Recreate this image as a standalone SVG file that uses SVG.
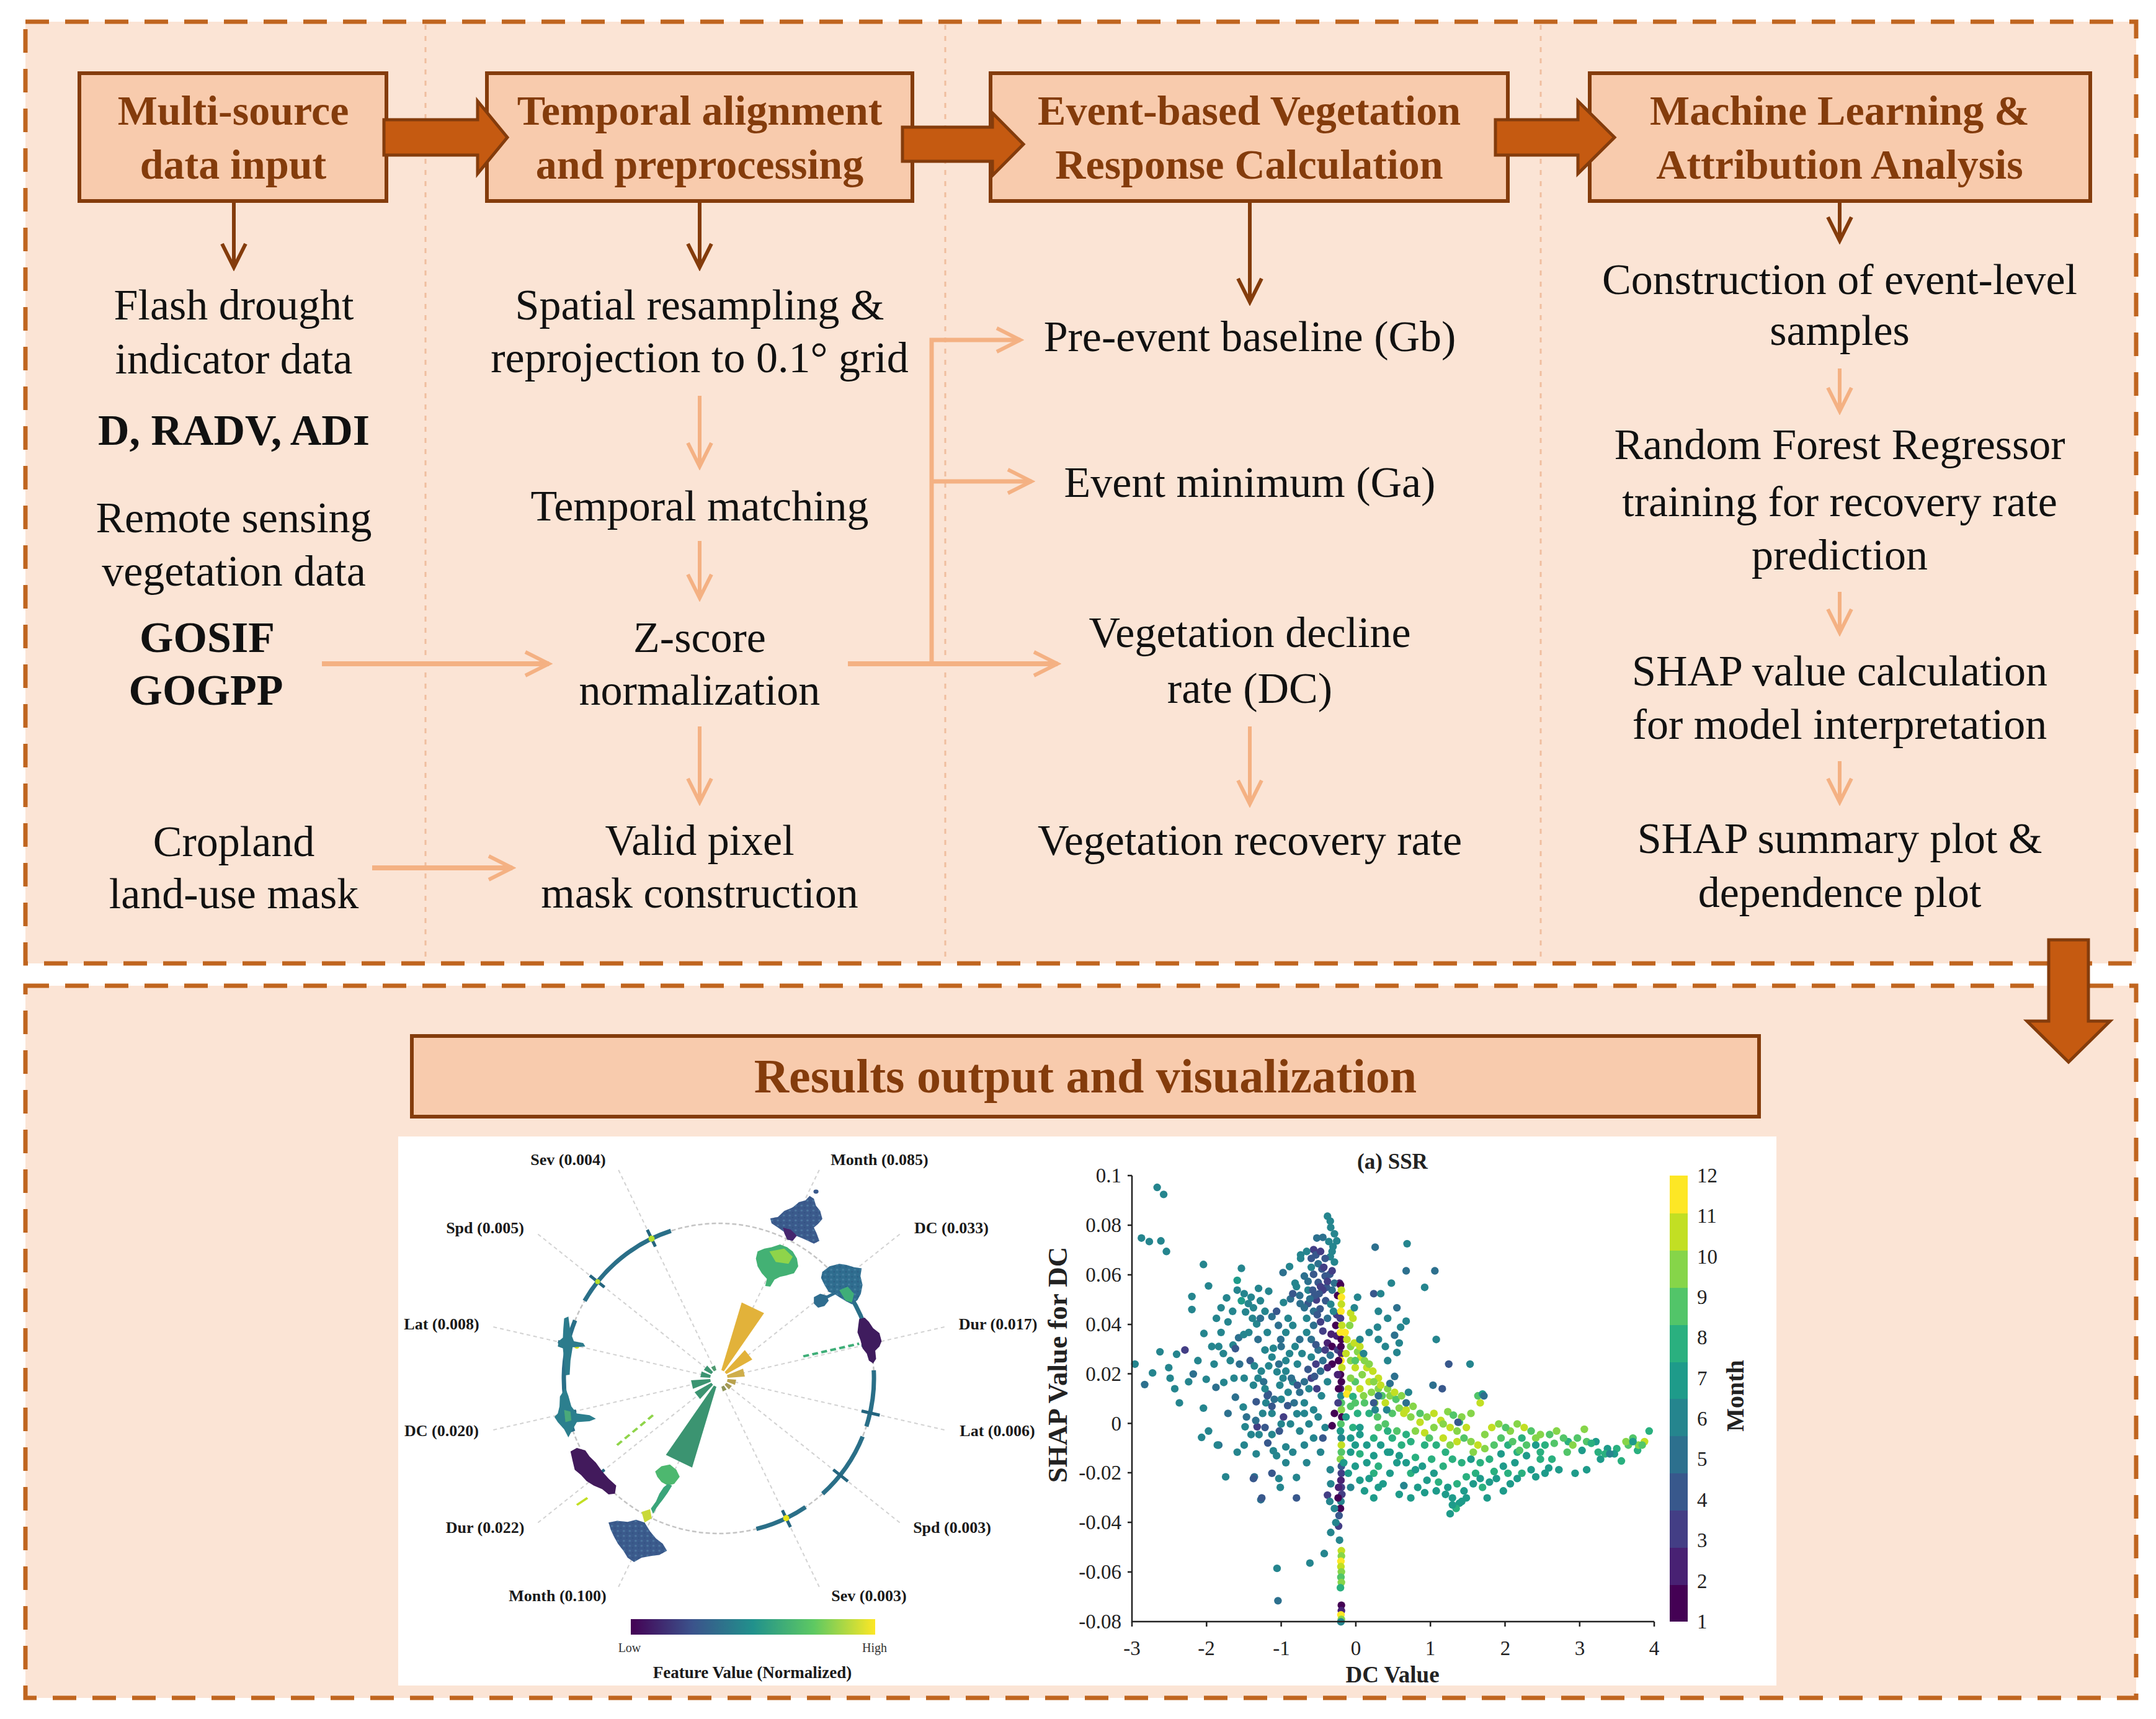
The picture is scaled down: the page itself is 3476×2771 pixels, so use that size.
<svg xmlns="http://www.w3.org/2000/svg" xmlns:xlink="http://www.w3.org/1999/xlink" width="3476" height="2771" viewBox="0 0 3476 2771">
<style>
.bg{fill:#FBE4D5}
.border{fill:none;stroke:#C0651F;stroke-width:7;stroke-dasharray:38 26}
.sep{stroke:#F0BE9F;stroke-width:3;stroke-dasharray:8 10}
.box{fill:#F8CBAD;stroke:#843C0C;stroke-width:6}
.title{font-family:"Liberation Serif","Times New Roman",serif;font-weight:bold;font-size:68px;fill:#843C0C;text-anchor:middle}
.txt{font-family:"Liberation Serif","Times New Roman",serif;font-size:70px;fill:#111;text-anchor:middle}
.b{font-weight:bold}
.big{fill:#C55A11;stroke:#843C0C;stroke-width:5;stroke-linejoin:miter}
.dk{stroke:#843C0C;stroke-width:6;fill:none;marker-end:url(#ahD)}
.lt{stroke:#F4B183;stroke-width:6;fill:none;marker-end:url(#ahL)}
.pl{font-family:"Liberation Serif","Times New Roman",serif;font-weight:bold;font-size:26px;fill:#1a1a1a;text-anchor:middle}
.sm{font-family:"Liberation Serif","Times New Roman",serif;font-size:20px;fill:#333;text-anchor:middle}
.ax{font-family:"Liberation Serif","Times New Roman",serif;font-size:33px;fill:#222}
.axb{font-family:"Liberation Serif","Times New Roman",serif;font-weight:bold;fill:#222;text-anchor:middle}
.spoke{stroke:#d2d2d2;stroke-width:2;stroke-dasharray:6 5}
.arc{fill:none;stroke:#2a6f88;stroke-width:7}
.spk{stroke:#24657f;stroke-width:5}
.m1{fill:#440154}.m2{fill:#482173}.m3{fill:#433e85}.m4{fill:#38588c}.m5{fill:#2d708e}.m6{fill:#25858e}
.m7{fill:#1e9b8a}.m8{fill:#2ab07f}.m9{fill:#52c569}.m10{fill:#86d549}.m11{fill:#c2df23}.m12{fill:#fde725}
</style>
<defs>
<marker id="ahD" markerUnits="userSpaceOnUse" markerWidth="50" markerHeight="50" viewBox="0 0 50 50" refX="44" refY="25" orient="auto"><path d="M6,6 L44,25 L6,44" fill="none" stroke="#843C0C" stroke-width="6"/></marker>
<marker id="ahL" markerUnits="userSpaceOnUse" markerWidth="50" markerHeight="50" viewBox="0 0 50 50" refX="44" refY="25" orient="auto"><path d="M6,6 L44,25 L6,44" fill="none" stroke="#F4B183" stroke-width="6"/></marker>
<linearGradient id="vir" x1="0" y1="0" x2="1" y2="0">
<stop offset="0" stop-color="#440154"/><stop offset="0.25" stop-color="#3b528b"/><stop offset="0.5" stop-color="#21918c"/><stop offset="0.75" stop-color="#5ec962"/><stop offset="1" stop-color="#fde725"/>
</linearGradient>
<ellipse id="dt" cx="0" cy="0" rx="8.3" ry="10.9"/>
<pattern id="spk1" patternUnits="userSpaceOnUse" width="14" height="14"><circle cx="4" cy="4" r="2.5" fill="#5a8fb0" opacity="0.6"/><circle cx="11" cy="10" r="2" fill="#2a4f7a" opacity="0.6"/></pattern>
</defs>

<rect width="3476" height="2771" fill="#ffffff"/>

<g id="panel-top">
<rect class="bg" x="41" y="35" width="3403" height="1518"/>
<line class="sep" x1="686" y1="40" x2="686" y2="1548"/>
<line class="sep" x1="1524" y1="40" x2="1524" y2="1548"/>
<line class="sep" x1="2484" y1="40" x2="2484" y2="1548"/>
<rect class="border" x="41" y="35" width="3403" height="1518"/>
</g>
<g id="panel-bottom">
<rect class="bg" x="41" y="1589" width="3403" height="1148"/>
<rect class="border" x="41" y="1589" width="3403" height="1148"/>
</g>

<g id="node-input">
<rect class="box" x="128" y="118" width="495" height="206"/>
<text class="title" x="376" y="201">Multi-source</text>
<text class="title" x="376" y="288">data input</text>
</g>
<g id="node-temporal">
<rect class="box" x="785" y="118" width="686" height="206"/>
<text class="title" x="1128" y="201">Temporal alignment</text>
<text class="title" x="1128" y="288">and preprocessing</text>
</g>
<g id="node-event">
<rect class="box" x="1597" y="118" width="834" height="206"/>
<text class="title" x="2014" y="201">Event-based Vegetation</text>
<text class="title" x="2014" y="288">Response Calculation</text>
</g>
<g id="node-ml">
<rect class="box" x="2563" y="118" width="807" height="206"/>
<text class="title" x="2966" y="201">Machine Learning &amp;</text>
<text class="title" x="2966" y="288">Attribution Analysis</text>
</g>

<g id="node-flash"><text class="txt" x="377" y="515">Flash drought</text><text class="txt" x="377" y="602">indicator data</text></g>
<g id="node-dradv"><text class="txt b" x="377" y="717">D, RADV, ADI</text></g>
<g id="node-remote"><text class="txt" x="377" y="858">Remote sensing</text><text class="txt" x="377" y="944">vegetation data</text></g>
<g id="node-gosif"><text class="txt b" x="334" y="1051">GOSIF</text><text class="txt b" x="332" y="1136">GOGPP</text></g>
<g id="node-cropland"><text class="txt" x="377" y="1380">Cropland</text><text class="txt" x="377" y="1464">land-use mask</text></g>

<g id="node-spatial"><text class="txt" x="1128" y="515">Spatial resampling &amp;</text><text class="txt" x="1128" y="600">reprojection to 0.1° grid</text></g>
<g id="node-tmatch"><text class="txt" x="1128" y="839">Temporal matching</text></g>
<g id="node-zscore"><text class="txt" x="1128" y="1051">Z-score</text><text class="txt" x="1128" y="1136">normalization</text></g>
<g id="node-valid"><text class="txt" x="1128" y="1378">Valid pixel</text><text class="txt" x="1128" y="1463">mask construction</text></g>

<g id="node-gb"><text class="txt" x="2015" y="566">Pre-event baseline (Gb)</text></g>
<g id="node-ga"><text class="txt" x="2015" y="801">Event minimum (Ga)</text></g>
<g id="node-dc"><text class="txt" x="2015" y="1043">Vegetation decline</text><text class="txt" x="2015" y="1133">rate (DC)</text></g>
<g id="node-recovery"><text class="txt" x="2015" y="1378">Vegetation recovery rate</text></g>

<g id="node-construct"><text class="txt" x="2966" y="474">Construction of event-level</text><text class="txt" x="2966" y="556">samples</text></g>
<g id="node-rf"><text class="txt" x="2966" y="740">Random Forest Regressor</text><text class="txt" x="2966" y="832">training for recovery rate</text><text class="txt" x="2966" y="918">prediction</text></g>
<g id="node-shapcalc"><text class="txt" x="2966" y="1105">SHAP value calculation</text><text class="txt" x="2966" y="1191">for model interpretation</text></g>
<g id="node-shapplot"><text class="txt" x="2966" y="1375">SHAP summary plot &amp;</text><text class="txt" x="2966" y="1462">dependence plot</text></g>

<g id="connectors">
<path class="big" d="M619,193 H770 V163 L818,221.5 L770,280 V250 H619 Z"/>
<path class="big" d="M1455,205 H1600 V182 L1650,232.5 L1600,283 V260 H1455 Z"/>
<path class="big" d="M2411,193 H2544 V163 L2603,221.5 L2544,280 V250 H2411 Z"/>
<path class="big" d="M3303,1515 H3367 V1646 H3402 L3335,1712 L3268,1646 H3303 Z"/>
<line class="dk" x1="377" y1="327" x2="377" y2="431"/>
<line class="dk" x1="1128" y1="327" x2="1128" y2="431"/>
<line class="dk" x1="2015" y1="327" x2="2015" y2="487"/>
<line class="dk" x1="2966" y1="327" x2="2966" y2="388"/>
<line class="lt" x1="1128" y1="638" x2="1128" y2="752"/>
<line class="lt" x1="1128" y1="872" x2="1128" y2="964"/>
<line class="lt" x1="1128" y1="1171" x2="1128" y2="1293"/>
<line class="lt" x1="2015" y1="1171" x2="2015" y2="1296"/>
<line class="lt" x1="2966" y1="594" x2="2966" y2="663"/>
<line class="lt" x1="2966" y1="954" x2="2966" y2="1020"/>
<line class="lt" x1="2966" y1="1227" x2="2966" y2="1293"/>
<line class="lt" style="stroke-width:8" x1="519" y1="1070" x2="885" y2="1070"/>
<line class="lt" style="stroke-width:8" x1="600" y1="1399" x2="826" y2="1399"/>
<line class="lt" style="stroke-width:8" x1="1367" y1="1070" x2="1705" y2="1070"/>
<path class="lt" style="stroke-width:7" d="M1502,1070 V548 H1645"/>
<line class="lt" style="stroke-width:7" x1="1502" y1="776" x2="1663" y2="776"/>
</g>

<g id="node-results">
<rect class="box" x="664" y="1670" width="2172" height="130"/>
<text class="title" style="font-size:78px" x="1750" y="1761">Results output and visualization</text>
</g>

<g id="plot-radial">
<rect x="642" y="1832" width="1065" height="885" fill="#ffffff"/>
<g>
<line class="spoke" x1="1173.6" y1="2225.3" x2="1524.6" y2="2305.4"/>
<line class="spoke" x1="1170.7" y1="2231.4" x2="1452.2" y2="2455.8"/>
<line class="spoke" x1="1165.5" y1="2235.5" x2="1321.7" y2="2559.9"/>
<line class="spoke" x1="1152.5" y1="2235.5" x2="996.3" y2="2559.9"/>
<line class="spoke" x1="1147.3" y1="2231.4" x2="865.8" y2="2455.8"/>
<line class="spoke" x1="1144.4" y1="2225.3" x2="793.4" y2="2305.4"/>
<line class="spoke" x1="1144.4" y1="2218.7" x2="793.4" y2="2138.6"/>
<line class="spoke" x1="1147.3" y1="2212.6" x2="865.8" y2="1988.2"/>
<line class="spoke" x1="1152.5" y1="2208.5" x2="996.3" y2="1884.1"/>
<line class="spoke" x1="1165.5" y1="2208.5" x2="1321.7" y2="1884.1"/>
<line class="spoke" x1="1170.7" y1="2212.6" x2="1452.2" y2="1988.2"/>
<line class="spoke" x1="1173.6" y1="2218.7" x2="1524.6" y2="2138.6"/>
</g>
<circle cx="1159" cy="2222" r="250" fill="none" stroke="#c4c4c4" stroke-width="2.5" stroke-dasharray="7 4"/>
<path class="arc" d="M942.5,2097 A250,250 0 0 1 1081.7,1984.2"/>
<path class="arc" d="M924.1,2307.5 A250,250 0 0 1 927.2,2128.4"/>
<path class="arc" d="M1408.7,2208.9 A250,250 0 0 1 1396.8,2299.3"/>
<path class="arc" d="M1390.8,2315.7 A250,250 0 0 1 1326.3,2407.8"/>
<path class="arc" d="M1298.8,2429.3 A250,250 0 0 1 1219.5,2464.6"/>
<path class="arc" d="M1371,2089.5 A250,250 0 0 1 1399.3,2153.1"/>
<g>
<line class="spk" x1="1389.1" y1="2274.5" x2="1418.3" y2="2281.2"/>
<line class="spk" x1="1343.5" y1="2369.1" x2="1367" y2="2387.9"/>
<line class="spk" x1="1261.4" y1="2434.6" x2="1274.4" y2="2461.7"/>
<line class="spk" x1="974.5" y1="2369.1" x2="951" y2="2387.9"/>
<line class="spk" x1="928.9" y1="2274.5" x2="899.7" y2="2281.2"/>
<line class="spk" x1="928.9" y1="2169.5" x2="899.7" y2="2162.8"/>
<line class="spk" x1="974.5" y1="2074.9" x2="951" y2="2056.1"/>
<line class="spk" x1="1056.6" y1="2009.4" x2="1043.6" y2="1982.3"/>
<line class="spk" x1="1343.5" y1="2074.9" x2="1367" y2="2056.1"/>
<line class="spk" x1="1389.1" y1="2169.5" x2="1418.3" y2="2162.8"/>
</g>
<g>
<circle cx="1050.5" cy="1996.8" r="5" fill="#b5de2b"/>
<circle cx="1267.5" cy="2447.3" r="5" fill="#e8e419"/>
<circle cx="963.5" cy="2066.1" r="4" fill="#b5de2b"/>
<circle cx="930" cy="2170" r="4" fill="#d8e219"/>
<circle cx="1388" cy="2150" r="3.5" fill="#d8e219"/>
<circle cx="960" cy="2380" r="4" fill="#d8e219"/>
</g>
<g transform="translate(640,1830) scale(0.6824,0.5676)">
<path fill="#3b5a8c" d="M882,236 L900,232 L915,215 L935,205 L950,190 L965,185 L975,172 L985,180 L990,200 L1000,215 L1005,238 L995,252 L985,262 L992,280 L998,300 L985,308 L968,298 L952,290 L940,284 L935,300 L922,296 L915,275 L900,262 L885,250 Z"/>
<path fill="url(#spk1)" d="M882,236 L900,232 L915,215 L935,205 L950,190 L965,185 L975,172 L985,180 L990,200 L1000,215 L1005,238 L995,252 L985,262 L992,280 L998,300 L985,308 L968,298 L952,290 L940,284 L935,300 L922,296 L915,275 L900,262 L885,250 Z"/>
<path fill="#46266e" d="M912,262 L930,268 L945,285 L935,300 L922,296 L915,278 Z"/>
<ellipse cx="990" cy="160" rx="6" ry="6" fill="#3b5a8c"/>
<path fill="#43b174" d="M852,330 L868,322 L885,318 L905,310 L922,318 L935,330 L945,350 L948,372 L938,392 L920,398 L905,402 L892,410 L882,430 L870,428 L874,408 L862,392 L852,372 L848,350 Z"/>
<path fill="#8fd44a" d="M880,330 L915,322 L935,345 L925,365 L895,360 Z"/>
<path fill="#2f6d8f" d="M1005,388 L1022,372 L1045,365 L1062,368 L1080,375 L1098,378 L1095,400 L1100,425 L1096,450 L1088,468 L1075,480 L1062,472 L1048,462 L1035,452 L1020,445 L1010,425 L1002,405 Z"/>
<path fill="url(#spk1)" d="M1005,388 L1022,372 L1045,365 L1062,368 L1080,375 L1098,378 L1095,400 L1100,425 L1096,450 L1088,468 L1075,480 L1062,472 L1048,462 L1035,452 L1020,445 L1010,425 L1002,405 Z"/>
<path fill="#3fae78" d="M1045,440 L1065,430 L1080,450 L1075,475 L1060,470 Z"/>
<path fill="#2f6d8f" d="M985,460 L1000,450 L1015,455 L1020,470 L1010,485 L995,490 L985,478 Z"/>
<path stroke="#2f6d8f" stroke-width="8" d="M1012,462 L1035,448"/>
<path stroke="#3fae78" stroke-width="7" stroke-dasharray="14 8" fill="none" d="M960,628 L1092,592"/>
<path fill="#3f1c5e" d="M1092,522 L1105,518 L1115,530 L1125,548 L1140,562 L1145,585 L1140,600 L1130,612 L1132,635 L1125,648 L1115,640 L1110,620 L1100,605 L1095,582 L1088,560 L1090,540 Z"/>
<path fill="#2c7b8c" d="M395,520 L405,515 L410,560 L418,585 L440,590 L445,600 L415,602 L410,640 L408,680 L398,682 L395,640 L392,605 L380,600 L382,585 L392,575 L393,550 Z"/>
<path fill="#2c7f8e" d="M385,742 L398,718 L405,740 L412,770 L425,790 L455,795 L470,805 L455,812 L425,815 L413,840 L405,858 L395,835 L380,815 L372,800 L380,790 L384,770 Z"/>
<path fill="#4aa97a" d="M395,780 L410,785 L412,810 L398,815 Z"/>
<path fill="#421a5c" d="M410,898 L425,888 L445,895 L455,912 L470,930 L485,955 L500,975 L518,995 L515,1018 L500,1020 L485,1005 L465,995 L448,982 L435,965 L420,950 L415,925 Z"/>
<path stroke="#8fd44a" stroke-width="6" stroke-dasharray="16 10" fill="none" d="M520,880 L610,790"/>
<path stroke="#c2df23" stroke-width="6" fill="none" d="M425,1050 L450,1030"/>
<path fill="#4db86f" d="M610,955 L625,940 L645,935 L660,950 L668,970 L655,990 L640,995 L625,985 L615,970 Z"/>
<path fill="#3aa57a" d="M600,1060 L612,1040 L620,1018 L630,1000 L640,990 L650,995 L640,1015 L628,1035 L615,1055 L605,1075 Z"/>
<path fill="#c9d93a" d="M578,1070 L598,1062 L602,1088 L585,1100 Z"/>
<path fill="#3b5a8c" d="M500,1100 L520,1095 L545,1098 L565,1092 L585,1100 L598,1125 L612,1145 L628,1160 L638,1180 L620,1192 L600,1195 L578,1200 L560,1212 L545,1200 L535,1180 L522,1160 L512,1138 L505,1120 Z"/>
<path fill="url(#spk1)" d="M500,1100 L520,1095 L545,1098 L565,1092 L585,1100 L598,1125 L612,1145 L628,1160 L638,1180 L620,1192 L600,1195 L578,1200 L560,1212 L545,1200 L535,1180 L522,1160 L512,1138 L505,1120 Z"/>
</g>
<g>
<path fill="#e2b23a" d="M1163,2208.6 L1195.8,2099.4 L1231.9,2116.8 L1167,2210.5 Z"/>
<path fill="#e2b23a" d="M1168.4,2211.7 L1200.8,2176.2 L1212.9,2191.4 L1171.2,2215.1 Z"/>
<path fill="#cfae4a" d="M1172,2216.8 L1198,2206.3 L1200.9,2219.1 L1173,2221 Z"/>
<path fill="#b9a24e" d="M1173,2223 L1186.9,2223.9 L1185,2232.4 L1172,2227.2 Z"/>
<path fill="#a59a55" d="M1171.2,2228.9 L1179.9,2233.9 L1175.2,2239.7 L1168.4,2232.3 Z"/>
<path fill="#8f9459" d="M1167,2233.5 L1171.5,2240.1 L1165.3,2243.1 L1163,2235.4 Z"/>
<path fill="#3b9471" d="M1155,2235.4 L1115.9,2365.7 L1073.6,2345.3 L1151,2233.5 Z"/>
<path fill="#3b9471" d="M1149.6,2232.3 L1128.7,2255.2 L1119.9,2244.2 L1146.8,2228.9 Z"/>
<path fill="#3b9471" d="M1146,2227.2 L1117.2,2238.8 L1114.1,2225.1 L1145,2223 Z"/>
<path fill="#3b9471" d="M1145,2221 L1129.1,2220 L1131.2,2210.8 L1146,2216.8 Z"/>
<path fill="#3b9471" d="M1146.8,2215.1 L1134.7,2208.2 L1140.1,2201.3 L1149.6,2211.7 Z"/>
<path fill="#4f9a70" d="M1151,2210.5 L1146.5,2203.9 L1152.7,2200.9 L1155,2208.6 Z"/>
</g>
<g>
<text class="pl" x="916" y="1878">Sev (0.004)</text>
<text class="pl" x="1418" y="1878">Month (0.085)</text>
<text class="pl" x="782" y="1988">Spd (0.005)</text>
<text class="pl" x="1534" y="1988">DC (0.033)</text>
<text class="pl" x="712" y="2143">Lat (0.008)</text>
<text class="pl" x="1609" y="2143">Dur (0.017)</text>
<text class="pl" x="712" y="2315">DC (0.020)</text>
<text class="pl" x="1608" y="2315">Lat (0.006)</text>
<text class="pl" x="782" y="2471">Dur (0.022)</text>
<text class="pl" x="1535" y="2471">Spd (0.003)</text>
<text class="pl" x="899" y="2581">Month (0.100)</text>
<text class="pl" x="1401" y="2581">Sev (0.003)</text>
</g>
<rect x="1017" y="2610" width="394" height="25" fill="url(#vir)"/>
<text class="sm" x="1015" y="2663">Low</text>
<text class="sm" x="1410" y="2663">High</text>
<text class="pl" style="font-size:27px" x="1213" y="2705">Feature Value (Normalized)</text>
</g>

<g id="plot-scatter">
<rect x="1707" y="1832" width="1157" height="885" fill="#ffffff"/>
<text class="axb" style="font-size:35px" x="2245" y="1884">(a) SSR</text>
<g transform="translate(1700,1830) scale(0.74616,0.5676)">
<use href="#dt" x="222" y="148" class="m6"/><use href="#dt" x="236" y="168" class="m6"/><use href="#dt" x="188" y="292" class="m6"/><use href="#dt" x="205" y="302" class="m6"/><use href="#dt" x="230" y="300" class="m6"/><use href="#dt" x="242" y="330" class="m6"/>
<use href="#dt" x="322" y="367" class="m6"/><use href="#dt" x="333" y="428" class="m6"/><use href="#dt" x="297" y="458" class="m6"/><use href="#dt" x="297" y="495" class="m6"/><use href="#dt" x="323" y="563" class="m6"/><use href="#dt" x="372" y="462" class="m6"/><use href="#dt" x="404" y="378" class="m6"/><use href="#dt" x="395" y="412" class="m7"/>
<use href="#dt" x="228" y="615" class="m6"/><use href="#dt" x="264" y="622" class="m6"/><use href="#dt" x="282" y="610" class="m3"/><use href="#dt" x="212" y="675" class="m6"/><use href="#dt" x="195" y="708" class="m5"/><use href="#dt" x="247" y="660" class="m6"/><use href="#dt" x="300" y="678" class="m5"/><use href="#dt" x="174" y="650" class="m6"/>
<use href="#dt" x="270" y="760" class="m6"/><use href="#dt" x="322" y="775" class="m6"/><use href="#dt" x="333" y="840" class="m6"/><use href="#dt" x="355" y="880" class="m5"/><use href="#dt" x="318" y="858" class="m6"/><use href="#dt" x="328" y="693" class="m6"/><use href="#dt" x="349" y="716" class="m5"/><use href="#dt" x="366" y="702" class="m6"/><use href="#dt" x="388" y="690" class="m6"/>
<use href="#dt" x="375" y="790" class="m5"/><use href="#dt" x="391" y="744" class="m5"/><use href="#dt" x="408" y="772" class="m6"/><use href="#dt" x="415" y="800" class="m5"/><use href="#dt" x="412" y="828" class="m6"/>
<use href="#dt" x="404" y="470" class="m7"/><use href="#dt" x="419" y="478" class="m6"/><use href="#dt" x="413" y="502" class="m6"/><use href="#dt" x="428" y="520" class="m6"/><use href="#dt" x="437" y="536" class="m6"/><use href="#dt" x="430" y="490" class="m6"/><use href="#dt" x="420" y="560" class="m6"/><use href="#dt" x="441" y="435" class="m6"/><use href="#dt" x="463" y="443" class="m6"/>
<use href="#dt" x="386" y="596" class="m6"/><use href="#dt" x="398" y="575" class="m5"/><use href="#dt" x="409" y="566" class="m6"/><use href="#dt" x="391" y="606" class="m4"/><use href="#dt" x="423" y="640" class="m4"/><use href="#dt" x="432" y="655" class="m6"/><use href="#dt" x="447" y="670" class="m6"/><use href="#dt" x="440" y="690" class="m6"/><use href="#dt" x="463" y="655" class="m6"/><use href="#dt" x="452" y="700" class="m5"/>
<use href="#dt" x="460" y="740" class="m4"/><use href="#dt" x="457" y="760" class="m6"/><use href="#dt" x="462" y="735" class="m4"/><use href="#dt" x="470" y="790" class="m6"/><use href="#dt" x="475" y="750" class="m5"/><use href="#dt" x="487" y="710" class="m6"/><use href="#dt" x="494" y="690" class="m6"/><use href="#dt" x="481" y="672" class="m6"/><use href="#dt" x="500" y="640" class="m6"/><use href="#dt" x="508" y="620" class="m6"/><use href="#dt" x="490" y="600" class="m5"/><use href="#dt" x="473" y="605" class="m6"/><use href="#dt" x="489" y="580" class="m5"/><use href="#dt" x="500" y="560" class="m6"/><use href="#dt" x="484" y="540" class="m5"/><use href="#dt" x="470" y="515" class="m5"/><use href="#dt" x="480" y="500" class="m4"/><use href="#dt" x="495" y="475" class="m6"/><use href="#dt" x="510" y="465" class="m5"/><use href="#dt" x="494" y="390" class="m5"/><use href="#dt" x="508" y="373" class="m6"/><use href="#dt" x="523" y="430" class="m6"/><use href="#dt" x="532" y="340" class="m6"/><use href="#dt" x="548" y="440" class="m6"/><use href="#dt" x="531" y="478" class="m5"/>
<use href="#dt" x="436" y="757" class="m4"/><use href="#dt" x="438" y="828" class="m3"/><use href="#dt" x="442" y="850" class="m6"/><use href="#dt" x="461" y="874" class="m4"/><use href="#dt" x="473" y="896" class="m6"/><use href="#dt" x="486" y="840" class="m4"/><use href="#dt" x="495" y="800" class="m3"/><use href="#dt" x="504" y="768" class="m4"/><use href="#dt" x="518" y="760" class="m5"/><use href="#dt" x="524" y="791" class="m6"/><use href="#dt" x="500" y="885" class="m6"/><use href="#dt" x="480" y="910" class="m6"/><use href="#dt" x="470" y="960" class="m4"/><use href="#dt" x="485" y="975" class="m6"/><use href="#dt" x="488" y="1000" class="m6"/><use href="#dt" x="490" y="820" class="m6"/><use href="#dt" x="436" y="905" class="m6"/><use href="#dt" x="432" y="970" class="m5"/><use href="#dt" x="430" y="975" class="m4"/><use href="#dt" x="446" y="1035" class="m5"/><use href="#dt" x="481" y="1230" class="m6"/><use href="#dt" x="523" y="972" class="m6"/>
<use href="#dt" x="395" y="440" class="m6"/><use href="#dt" x="410" y="450" class="m6"/><use href="#dt" x="425" y="460" class="m6"/><use href="#dt" x="445" y="470" class="m6"/><use href="#dt" x="455" y="500" class="m6"/><use href="#dt" x="445" y="520" class="m5"/><use href="#dt" x="460" y="560" class="m6"/><use href="#dt" x="440" y="580" class="m5"/><use href="#dt" x="455" y="610" class="m6"/><use href="#dt" x="470" y="630" class="m6"/><use href="#dt" x="485" y="650" class="m5"/><use href="#dt" x="500" y="670" class="m6"/><use href="#dt" x="515" y="700" class="m6"/><use href="#dt" x="525" y="710" class="m4"/><use href="#dt" x="540" y="700" class="m5"/><use href="#dt" x="555" y="690" class="m3"/><use href="#dt" x="505" y="730" class="m6"/><use href="#dt" x="490" y="750" class="m6"/><use href="#dt" x="470" y="770" class="m4"/><use href="#dt" x="450" y="790" class="m6"/><use href="#dt" x="435" y="810" class="m5"/><use href="#dt" x="425" y="850" class="m6"/><use href="#dt" x="410" y="880" class="m6"/><use href="#dt" x="395" y="900" class="m6"/><use href="#dt" x="455" y="830" class="m4"/><use href="#dt" x="470" y="850" class="m6"/><use href="#dt" x="510" y="820" class="m6"/><use href="#dt" x="530" y="840" class="m6"/><use href="#dt" x="550" y="820" class="m6"/><use href="#dt" x="560" y="860" class="m6"/><use href="#dt" x="540" y="880" class="m6"/><use href="#dt" x="515" y="900" class="m6"/><use href="#dt" x="500" y="930" class="m6"/><use href="#dt" x="545" y="930" class="m6"/><use href="#dt" x="575" y="900" class="m6"/><use href="#dt" x="580" y="860" class="m4"/><use href="#dt" x="585" y="830" class="m6"/><use href="#dt" x="455" y="720" class="m6"/><use href="#dt" x="430" y="710" class="m6"/><use href="#dt" x="410" y="690" class="m6"/><use href="#dt" x="400" y="650" class="m5"/><use href="#dt" x="380" y="640" class="m6"/><use href="#dt" x="365" y="620" class="m6"/><use href="#dt" x="355" y="600" class="m6"/><use href="#dt" x="345" y="650" class="m6"/><use href="#dt" x="360" y="560" class="m6"/><use href="#dt" x="375" y="530" class="m6"/><use href="#dt" x="350" y="520" class="m6"/><use href="#dt" x="385" y="500" class="m6"/><use href="#dt" x="360" y="490" class="m6"/><use href="#dt" x="340" y="600" class="m6"/><use href="#dt" x="310" y="640" class="m6"/><use href="#dt" x="290" y="700" class="m6"/><use href="#dt" x="260" y="720" class="m6"/><use href="#dt" x="250" y="690" class="m6"/>
<use href="#dt" x="580" y="290" class="m5"/><use href="#dt" x="593" y="302" class="m6"/><use href="#dt" x="602" y="316" class="m6"/><use href="#dt" x="605" y="360" class="m6"/><use href="#dt" x="596" y="345" class="m6"/><use href="#dt" x="560" y="325" class="m3"/><use href="#dt" x="585" y="400" class="m4"/><use href="#dt" x="578" y="380" class="m4"/><use href="#dt" x="570" y="418" class="m4"/><use href="#dt" x="558" y="440" class="m4"/><use href="#dt" x="566" y="468" class="m3"/><use href="#dt" x="574" y="493" class="m4"/><use href="#dt" x="586" y="470" class="m4"/><use href="#dt" x="560" y="500" class="m5"/><use href="#dt" x="548" y="478" class="m4"/><use href="#dt" x="560" y="540" class="m5"/><use href="#dt" x="545" y="560" class="m6"/><use href="#dt" x="590" y="520" class="m5"/><use href="#dt" x="580" y="556" class="m3"/><use href="#dt" x="590" y="590" class="m2"/><use href="#dt" x="600" y="600" class="m1"/><use href="#dt" x="610" y="570" class="m2"/><use href="#dt" x="596" y="625" class="m5"/><use href="#dt" x="570" y="610" class="m5"/><use href="#dt" x="555" y="630" class="m6"/><use href="#dt" x="565" y="650" class="m3"/><use href="#dt" x="575" y="670" class="m5"/><use href="#dt" x="548" y="665" class="m4"/><use href="#dt" x="525" y="650" class="m6"/><use href="#dt" x="520" y="600" class="m6"/><use href="#dt" x="535" y="620" class="m6"/><use href="#dt" x="515" y="540" class="m6"/><use href="#dt" x="530" y="580" class="m5"/><use href="#dt" x="610" y="510" class="m3"/><use href="#dt" x="612" y="455" class="m1"/><use href="#dt" x="616" y="420" class="m2"/><use href="#dt" x="600" y="440" class="m5"/><use href="#dt" x="597" y="480" class="m6"/><use href="#dt" x="608" y="540" class="m1"/><use href="#dt" x="612" y="610" class="m3"/><use href="#dt" x="562" y="685" class="m4"/><use href="#dt" x="590" y="700" class="m6"/><use href="#dt" x="567" y="720" class="m3"/><use href="#dt" x="577" y="740" class="m6"/><use href="#dt" x="550" y="720" class="m6"/><use href="#dt" x="540" y="760" class="m6"/><use href="#dt" x="530" y="730" class="m5"/><use href="#dt" x="512" y="690" class="m5"/><use href="#dt" x="560" y="780" class="m6"/><use href="#dt" x="570" y="800" class="m6"/><use href="#dt" x="540" y="790" class="m6"/>
<use href="#dt" x="545" y="330" class="m6"/><use href="#dt" x="532" y="350" class="m6"/><use href="#dt" x="555" y="375" class="m6"/><use href="#dt" x="540" y="400" class="m5"/><use href="#dt" x="520" y="420" class="m6"/><use href="#dt" x="515" y="450" class="m4"/><use href="#dt" x="530" y="455" class="m5"/><use href="#dt" x="545" y="520" class="m6"/><use href="#dt" x="505" y="520" class="m6"/><use href="#dt" x="567" y="292" class="m5"/><use href="#dt" x="588" y="432" class="m4"/><use href="#dt" x="580" y="440" class="m3"/><use href="#dt" x="572" y="450" class="m4"/><use href="#dt" x="590" y="415" class="m3"/><use href="#dt" x="595" y="395" class="m4"/><use href="#dt" x="600" y="385" class="m3"/>
<use href="#dt" x="555" y="350" class="m4"/><use href="#dt" x="565" y="340" class="m4"/><use href="#dt" x="575" y="330" class="m3"/><use href="#dt" x="585" y="350" class="m4"/><use href="#dt" x="570" y="365" class="m5"/><use href="#dt" x="560" y="395" class="m4"/><use href="#dt" x="548" y="415" class="m5"/><use href="#dt" x="575" y="430" class="m3"/><use href="#dt" x="562" y="455" class="m4"/><use href="#dt" x="552" y="465" class="m5"/><use href="#dt" x="540" y="490" class="m5"/><use href="#dt" x="568" y="510" class="m4"/><use href="#dt" x="575" y="530" class="m3"/><use href="#dt" x="555" y="580" class="m5"/><use href="#dt" x="565" y="595" class="m4"/><use href="#dt" x="585" y="610" class="m3"/><use href="#dt" x="600" y="650" class="m1"/><use href="#dt" x="590" y="660" class="m2"/><use href="#dt" x="580" y="640" class="m5"/><use href="#dt" x="598" y="565" class="m2"/><use href="#dt" x="603" y="500" class="m6"/><use href="#dt" x="605" y="420" class="m5"/><use href="#dt" x="582" y="375" class="m3"/><use href="#dt" x="600" y="330" class="m6"/><use href="#dt" x="610" y="300" class="m6"/><use href="#dt" x="605" y="280" class="m6"/><use href="#dt" x="597" y="262" class="m6"/><use href="#dt" x="590" y="230" class="m6"/><use href="#dt" x="596" y="244" class="m6"/>
<use href="#dt" x="618" y="425" class="m1"/><use href="#dt" x="620" y="440" class="m11"/><use href="#dt" x="620" y="460" class="m12"/><use href="#dt" x="620" y="480" class="m11"/><use href="#dt" x="619" y="500" class="m12"/><use href="#dt" x="618" y="520" class="m3"/><use href="#dt" x="621" y="540" class="m11"/><use href="#dt" x="618" y="560" class="m12"/><use href="#dt" x="620" y="580" class="m1"/><use href="#dt" x="619" y="600" class="m1"/><use href="#dt" x="620" y="620" class="m2"/><use href="#dt" x="619" y="640" class="m12"/><use href="#dt" x="621" y="660" class="m11"/><use href="#dt" x="618" y="680" class="m1"/><use href="#dt" x="620" y="700" class="m1"/><use href="#dt" x="618" y="720" class="m2"/><use href="#dt" x="619" y="740" class="m6"/><use href="#dt" x="620" y="760" class="m9"/><use href="#dt" x="620" y="780" class="m10"/><use href="#dt" x="621" y="800" class="m1"/><use href="#dt" x="619" y="820" class="m9"/><use href="#dt" x="618" y="840" class="m7"/><use href="#dt" x="620" y="860" class="m6"/><use href="#dt" x="620" y="880" class="m11"/><use href="#dt" x="620" y="900" class="m9"/><use href="#dt" x="618" y="920" class="m10"/><use href="#dt" x="620" y="940" class="m4"/><use href="#dt" x="620" y="960" class="m3"/><use href="#dt" x="619" y="980" class="m2"/><use href="#dt" x="620" y="1000" class="m3"/><use href="#dt" x="621" y="1020" class="m3"/><use href="#dt" x="619" y="1040" class="m6"/><use href="#dt" x="618" y="1060" class="m1"/><use href="#dt" x="620" y="1180" class="m11"/><use href="#dt" x="620" y="1195" class="m10"/><use href="#dt" x="619" y="1210" class="m12"/><use href="#dt" x="619" y="1225" class="m11"/><use href="#dt" x="620" y="1240" class="m10"/><use href="#dt" x="619" y="1255" class="m9"/><use href="#dt" x="620" y="1270" class="m10"/><use href="#dt" x="618" y="1285" class="m8"/><use href="#dt" x="620" y="1335" class="m1"/><use href="#dt" x="620" y="1350" class="m2"/><use href="#dt" x="619" y="1362" class="m12"/><use href="#dt" x="620" y="1375" class="m10"/><use href="#dt" x="619" y="1382" class="m6"/>
<use href="#dt" x="614" y="640" class="m1"/><use href="#dt" x="612" y="680" class="m2"/><use href="#dt" x="614" y="720" class="m1"/><use href="#dt" x="613" y="760" class="m3"/><use href="#dt" x="614" y="1000" class="m2"/><use href="#dt" x="613" y="1030" class="m1"/><use href="#dt" x="615" y="1080" class="m4"/><use href="#dt" x="614" y="1110" class="m3"/><use href="#dt" x="616" y="1150" class="m6"/>
<use href="#dt" x="605" y="790" class="m1"/><use href="#dt" x="600" y="825" class="m1"/><use href="#dt" x="596" y="950" class="m6"/><use href="#dt" x="597" y="990" class="m6"/><use href="#dt" x="590" y="1022" class="m3"/><use href="#dt" x="595" y="1040" class="m6"/><use href="#dt" x="605" y="1060" class="m6"/><use href="#dt" x="608" y="1100" class="m6"/><use href="#dt" x="597" y="1128" class="m6"/><use href="#dt" x="583" y="1188" class="m6"/><use href="#dt" x="552" y="1215" class="m6"/><use href="#dt" x="483" y="1322" class="m5"/>
<use href="#dt" x="630" y="800" class="m7"/><use href="#dt" x="645" y="830" class="m8"/><use href="#dt" x="660" y="850" class="m7"/><use href="#dt" x="650" y="880" class="m7"/><use href="#dt" x="640" y="900" class="m7"/><use href="#dt" x="625" y="930" class="m7"/><use href="#dt" x="660" y="905" class="m8"/><use href="#dt" x="675" y="930" class="m7"/><use href="#dt" x="690" y="960" class="m8"/><use href="#dt" x="680" y="975" class="m7"/><use href="#dt" x="700" y="940" class="m8"/><use href="#dt" x="710" y="990" class="m7"/><use href="#dt" x="725" y="900" class="m7"/><use href="#dt" x="740" y="930" class="m7"/><use href="#dt" x="755" y="995" class="m6"/><use href="#dt" x="770" y="960" class="m8"/><use href="#dt" x="785" y="1000" class="m7"/><use href="#dt" x="800" y="1015" class="m7"/><use href="#dt" x="795" y="940" class="m7"/><use href="#dt" x="820" y="960" class="m7"/><use href="#dt" x="830" y="985" class="m8"/><use href="#dt" x="850" y="1000" class="m7"/><use href="#dt" x="860" y="1030" class="m7"/><use href="#dt" x="875" y="1045" class="m7"/><use href="#dt" x="885" y="1010" class="m7"/><use href="#dt" x="870" y="990" class="m8"/><use href="#dt" x="890" y="970" class="m8"/><use href="#dt" x="910" y="960" class="m8"/><use href="#dt" x="925" y="1000" class="m8"/><use href="#dt" x="940" y="985" class="m7"/><use href="#dt" x="950" y="955" class="m8"/><use href="#dt" x="970" y="940" class="m7"/><use href="#dt" x="980" y="960" class="m8"/><use href="#dt" x="995" y="930" class="m7"/><use href="#dt" x="1010" y="960" class="m8"/><use href="#dt" x="1030" y="950" class="m7"/><use href="#dt" x="1050" y="920" class="m8"/><use href="#dt" x="1068" y="945" class="m7"/><use href="#dt" x="1090" y="950" class="m7"/><use href="#dt" x="1020" y="910" class="m7"/><use href="#dt" x="965" y="905" class="m7"/><use href="#dt" x="935" y="1030" class="m7"/><use href="#dt" x="970" y="1010" class="m7"/><use href="#dt" x="855" y="1075" class="m7"/><use href="#dt" x="880" y="1040" class="m7"/><use href="#dt" x="868" y="1060" class="m8"/><use href="#dt" x="840" y="940" class="m8"/><use href="#dt" x="815" y="920" class="m8"/><use href="#dt" x="780" y="915" class="m8"/><use href="#dt" x="750" y="880" class="m8"/><use href="#dt" x="730" y="860" class="m8"/><use href="#dt" x="715" y="820" class="m9"/><use href="#dt" x="698" y="800" class="m9"/><use href="#dt" x="680" y="790" class="m8"/><use href="#dt" x="670" y="760" class="m9"/>
<use href="#dt" x="1110" y="870" class="m8"/><use href="#dt" x="1130" y="860" class="m9"/><use href="#dt" x="1150" y="870" class="m9"/><use href="#dt" x="1170" y="870" class="m7"/><use href="#dt" x="1195" y="890" class="m7"/><use href="#dt" x="1215" y="890" class="m8"/><use href="#dt" x="1240" y="880" class="m9"/><use href="#dt" x="1260" y="895" class="m8"/><use href="#dt" x="1180" y="920" class="m7"/><use href="#dt" x="1050" y="900" class="m8"/><use href="#dt" x="1000" y="900" class="m8"/><use href="#dt" x="980" y="880" class="m8"/><use href="#dt" x="940" y="920" class="m8"/><use href="#dt" x="920" y="930" class="m8"/><use href="#dt" x="900" y="920" class="m7"/><use href="#dt" x="880" y="930" class="m8"/><use href="#dt" x="860" y="920" class="m8"/><use href="#dt" x="845" y="900" class="m8"/><use href="#dt" x="825" y="880" class="m8"/><use href="#dt" x="800" y="880" class="m8"/><use href="#dt" x="770" y="870" class="m8"/><use href="#dt" x="760" y="850" class="m8"/><use href="#dt" x="740" y="840" class="m9"/><use href="#dt" x="720" y="840" class="m8"/><use href="#dt" x="700" y="830" class="m9"/><use href="#dt" x="690" y="860" class="m8"/><use href="#dt" x="705" y="880" class="m7"/><use href="#dt" x="720" y="900" class="m7"/><use href="#dt" x="745" y="910" class="m7"/><use href="#dt" x="760" y="930" class="m7"/><use href="#dt" x="780" y="950" class="m7"/><use href="#dt" x="805" y="980" class="m7"/><use href="#dt" x="825" y="1010" class="m7"/><use href="#dt" x="845" y="1020" class="m7"/><use href="#dt" x="860" y="1050" class="m7"/><use href="#dt" x="890" y="1030" class="m7"/><use href="#dt" x="905" y="990" class="m7"/><use href="#dt" x="920" y="975" class="m7"/><use href="#dt" x="955" y="975" class="m7"/><use href="#dt" x="985" y="990" class="m7"/><use href="#dt" x="1000" y="975" class="m7"/><use href="#dt" x="1040" y="970" class="m7"/><use href="#dt" x="1060" y="960" class="m7"/><use href="#dt" x="1075" y="920" class="m8"/><use href="#dt" x="660" y="830" class="m7"/><use href="#dt" x="675" y="880" class="m7"/><use href="#dt" x="690" y="910" class="m7"/><use href="#dt" x="650" y="940" class="m7"/><use href="#dt" x="635" y="960" class="m7"/><use href="#dt" x="660" y="980" class="m7"/><use href="#dt" x="640" y="1000" class="m6"/><use href="#dt" x="670" y="1010" class="m7"/><use href="#dt" x="700" y="1000" class="m7"/><use href="#dt" x="725" y="960" class="m7"/><use href="#dt" x="745" y="1020" class="m7"/><use href="#dt" x="770" y="1030" class="m7"/><use href="#dt" x="690" y="1030" class="m7"/><use href="#dt" x="640" y="860" class="m7"/><use href="#dt" x="655" y="790" class="m8"/>
<use href="#dt" x="628" y="560" class="m12"/><use href="#dt" x="632" y="580" class="m11"/><use href="#dt" x="640" y="600" class="m10"/><use href="#dt" x="648" y="590" class="m11"/><use href="#dt" x="655" y="615" class="m10"/><use href="#dt" x="662" y="630" class="m11"/><use href="#dt" x="670" y="640" class="m10"/><use href="#dt" x="675" y="660" class="m11"/><use href="#dt" x="680" y="650" class="m10"/><use href="#dt" x="688" y="670" class="m11"/><use href="#dt" x="665" y="680" class="m10"/><use href="#dt" x="650" y="700" class="m9"/><use href="#dt" x="640" y="690" class="m10"/><use href="#dt" x="635" y="720" class="m11"/><use href="#dt" x="632" y="735" class="m12"/><use href="#dt" x="645" y="742" class="m8"/><use href="#dt" x="660" y="720" class="m11"/><use href="#dt" x="680" y="700" class="m11"/><use href="#dt" x="700" y="690" class="m11"/><use href="#dt" x="700" y="720" class="m10"/><use href="#dt" x="708" y="740" class="m9"/><use href="#dt" x="692" y="760" class="m10"/><use href="#dt" x="715" y="760" class="m11"/><use href="#dt" x="725" y="740" class="m10"/><use href="#dt" x="738" y="750" class="m9"/><use href="#dt" x="745" y="775" class="m10"/><use href="#dt" x="730" y="790" class="m9"/><use href="#dt" x="755" y="790" class="m11"/><use href="#dt" x="770" y="800" class="m10"/><use href="#dt" x="790" y="815" class="m11"/><use href="#dt" x="780" y="840" class="m10"/><use href="#dt" x="800" y="845" class="m11"/><use href="#dt" x="810" y="860" class="m9"/><use href="#dt" x="820" y="830" class="m10"/><use href="#dt" x="835" y="810" class="m11"/><use href="#dt" x="850" y="785" class="m10"/><use href="#dt" x="862" y="795" class="m9"/><use href="#dt" x="840" y="860" class="m11"/><use href="#dt" x="855" y="880" class="m10"/><use href="#dt" x="870" y="870" class="m11"/><use href="#dt" x="885" y="860" class="m9"/><use href="#dt" x="900" y="870" class="m10"/><use href="#dt" x="915" y="880" class="m11"/><use href="#dt" x="905" y="900" class="m10"/><use href="#dt" x="930" y="890" class="m10"/><use href="#dt" x="950" y="880" class="m9"/><use href="#dt" x="965" y="860" class="m9"/><use href="#dt" x="985" y="840" class="m10"/><use href="#dt" x="990" y="870" class="m9"/><use href="#dt" x="1005" y="895" class="m9"/><use href="#dt" x="1020" y="880" class="m9"/><use href="#dt" x="1040" y="860" class="m10"/><use href="#dt" x="1060" y="880" class="m8"/><use href="#dt" x="1080" y="875" class="m9"/><use href="#dt" x="1100" y="860" class="m9"/><use href="#dt" x="1120" y="880" class="m10"/><use href="#dt" x="1145" y="835" class="m10"/><use href="#dt" x="1160" y="875" class="m8"/><use href="#dt" x="1175" y="900" class="m8"/><use href="#dt" x="1190" y="905" class="m8"/><use href="#dt" x="1210" y="905" class="m7"/><use href="#dt" x="1225" y="925" class="m8"/><use href="#dt" x="1235" y="870" class="m10"/><use href="#dt" x="1250" y="860" class="m9"/><use href="#dt" x="1262" y="880" class="m10"/><use href="#dt" x="1275" y="870" class="m11"/><use href="#dt" x="1285" y="840" class="m8"/><use href="#dt" x="920" y="760" class="m11"/><use href="#dt" x="915" y="740" class="m9"/><use href="#dt" x="925" y="735" class="m7"/><use href="#dt" x="900" y="790" class="m10"/><use href="#dt" x="875" y="815" class="m8"/>
<use href="#dt" x="640" y="640" class="m10"/><use href="#dt" x="650" y="660" class="m11"/><use href="#dt" x="660" y="600" class="m11"/><use href="#dt" x="690" y="700" class="m10"/><use href="#dt" x="705" y="710" class="m11"/><use href="#dt" x="720" y="720" class="m10"/><use href="#dt" x="735" y="730" class="m11"/><use href="#dt" x="750" y="740" class="m10"/><use href="#dt" x="760" y="780" class="m11"/><use href="#dt" x="775" y="770" class="m10"/><use href="#dt" x="790" y="790" class="m9"/><use href="#dt" x="805" y="800" class="m10"/><use href="#dt" x="820" y="790" class="m11"/><use href="#dt" x="840" y="820" class="m10"/><use href="#dt" x="855" y="830" class="m11"/><use href="#dt" x="870" y="840" class="m10"/><use href="#dt" x="890" y="830" class="m11"/><use href="#dt" x="880" y="800" class="m10"/><use href="#dt" x="930" y="850" class="m10"/><use href="#dt" x="945" y="830" class="m11"/><use href="#dt" x="960" y="820" class="m10"/><use href="#dt" x="975" y="830" class="m9"/><use href="#dt" x="1000" y="820" class="m10"/><use href="#dt" x="1015" y="830" class="m11"/><use href="#dt" x="1030" y="840" class="m9"/><use href="#dt" x="1050" y="850" class="m10"/><use href="#dt" x="1070" y="850" class="m9"/><use href="#dt" x="1085" y="840" class="m10"/><use href="#dt" x="640" y="770" class="m9"/><use href="#dt" x="668" y="740" class="m10"/><use href="#dt" x="685" y="730" class="m10"/><use href="#dt" x="650" y="760" class="m9"/><use href="#dt" x="630" y="620" class="m11"/><use href="#dt" x="638" y="540" class="m10"/><use href="#dt" x="645" y="520" class="m11"/><use href="#dt" x="640" y="505" class="m11"/><use href="#dt" x="650" y="640" class="m9"/>
<use href="#dt" x="660" y="580" class="m6"/><use href="#dt" x="668" y="620" class="m6"/><use href="#dt" x="698" y="545" class="m6"/><use href="#dt" x="720" y="520" class="m6"/><use href="#dt" x="690" y="450" class="m4"/><use href="#dt" x="705" y="450" class="m6"/><use href="#dt" x="728" y="420" class="m6"/><use href="#dt" x="760" y="385" class="m5"/><use href="#dt" x="762" y="308" class="m6"/><use href="#dt" x="693" y="318" class="m5"/><use href="#dt" x="800" y="432" class="m6"/><use href="#dt" x="822" y="385" class="m5"/><use href="#dt" x="825" y="580" class="m6"/><use href="#dt" x="852" y="650" class="m4"/><use href="#dt" x="898" y="650" class="m6"/><use href="#dt" x="872" y="815" class="m4"/><use href="#dt" x="818" y="710" class="m5"/><use href="#dt" x="838" y="720" class="m4"/><use href="#dt" x="735" y="685" class="m5"/><use href="#dt" x="720" y="640" class="m6"/><use href="#dt" x="740" y="617" class="m6"/><use href="#dt" x="745" y="590" class="m6"/><use href="#dt" x="735" y="568" class="m5"/><use href="#dt" x="748" y="545" class="m6"/><use href="#dt" x="700" y="580" class="m6"/><use href="#dt" x="715" y="600" class="m6"/><use href="#dt" x="680" y="560" class="m6"/><use href="#dt" x="700" y="500" class="m6"/><use href="#dt" x="740" y="490" class="m5"/><use href="#dt" x="760" y="528" class="m6"/><use href="#dt" x="725" y="705" class="m5"/><use href="#dt" x="700" y="740" class="m5"/><use href="#dt" x="718" y="780" class="m6"/><use href="#dt" x="765" y="730" class="m6"/><use href="#dt" x="760" y="760" class="m5"/><use href="#dt" x="690" y="760" class="m4"/><use href="#dt" x="693" y="780" class="m6"/><use href="#dt" x="928" y="740" class="m5"/><use href="#dt" x="655" y="460" class="m6"/><use href="#dt" x="648" y="490" class="m6"/>
<use href="#dt" x="448" y="1030" class="m4"/><use href="#dt" x="370" y="970" class="m6"/><use href="#dt" x="352" y="880" class="m6"/><use href="#dt" x="523" y="1030" class="m4"/><use href="#dt" x="1010" y="860" class="m8"/><use href="#dt" x="1040" y="880" class="m7"/><use href="#dt" x="1108" y="900" class="m9"/><use href="#dt" x="1140" y="895" class="m7"/><use href="#dt" x="1125" y="960" class="m7"/><use href="#dt" x="1150" y="950" class="m7"/><use href="#dt" x="1200" y="905" class="m6"/><use href="#dt" x="1250" y="870" class="m7"/><use href="#dt" x="1270" y="880" class="m9"/>
</g>
<g stroke="#222" stroke-width="2.5" fill="none">
<path d="M1825,1895 V2614 H2667"/>
<path d="M1818,1895 H1825 M1818,1975 H1825 M1818,2055 H1825 M1818,2135 H1825 M1818,2214.6 H1825 M1818,2294.5 H1825 M1818,2374 H1825 M1818,2454 H1825 M1818,2534 H1825"/>
<path d="M1825,2614 V2622 M1945.3,2614 V2622 M2065.6,2614 V2622 M2185.9,2614 V2622 M2306.2,2614 V2622 M2426.5,2614 V2622 M2546.8,2614 V2622 M2667,2614 V2622"/>
</g>
<g class="ax" text-anchor="end">
<text x="1808" y="1906">0.1</text><text x="1808" y="1986">0.08</text><text x="1808" y="2066">0.06</text><text x="1808" y="2146">0.04</text><text x="1808" y="2226">0.02</text><text x="1808" y="2306">0</text><text x="1808" y="2385">-0.02</text><text x="1808" y="2465">-0.04</text><text x="1808" y="2545">-0.06</text><text x="1808" y="2625">-0.08</text>
</g>
<g class="ax" text-anchor="middle">
<text x="1825" y="2668">-3</text><text x="1945" y="2668">-2</text><text x="2066" y="2668">-1</text><text x="2186" y="2668">0</text><text x="2306" y="2668">1</text><text x="2427" y="2668">2</text><text x="2547" y="2668">3</text><text x="2667" y="2668">4</text>
</g>
<text class="axb" style="font-size:37px" x="2245" y="2712">DC Value</text>
<text class="axb" style="font-size:45px" transform="translate(1720,2200) rotate(-90)">SHAP Value for DC</text>
<g>
<rect x="2692" y="2554" width="29" height="60" class="m1"/><rect x="2692" y="2494" width="29" height="61" class="m2"/><rect x="2692" y="2434" width="29" height="61" class="m3"/><rect x="2692" y="2374" width="29" height="61" class="m4"/><rect x="2692" y="2314" width="29" height="61" class="m5"/><rect x="2692" y="2254" width="29" height="61" class="m6"/><rect x="2692" y="2195" width="29" height="60" class="m7"/><rect x="2692" y="2135" width="29" height="61" class="m8"/><rect x="2692" y="2075" width="29" height="61" class="m9"/><rect x="2692" y="2015" width="29" height="61" class="m10"/><rect x="2692" y="1955" width="29" height="61" class="m11"/><rect x="2692" y="1895" width="29" height="61" class="m12"/>
</g>
<g class="ax" text-anchor="start">
<text x="2736" y="2625">1</text><text x="2736" y="2560">2</text><text x="2736" y="2494">3</text><text x="2736" y="2429">4</text><text x="2736" y="2363">5</text><text x="2736" y="2298">6</text><text x="2736" y="2233">7</text><text x="2736" y="2167">8</text><text x="2736" y="2102">9</text><text x="2736" y="2037">10</text><text x="2736" y="1971">11</text><text x="2736" y="1906">12</text>
</g>
<text class="axb" style="font-size:40px" transform="translate(2811,2250) rotate(-90)">Month</text>
</g>
</svg>
